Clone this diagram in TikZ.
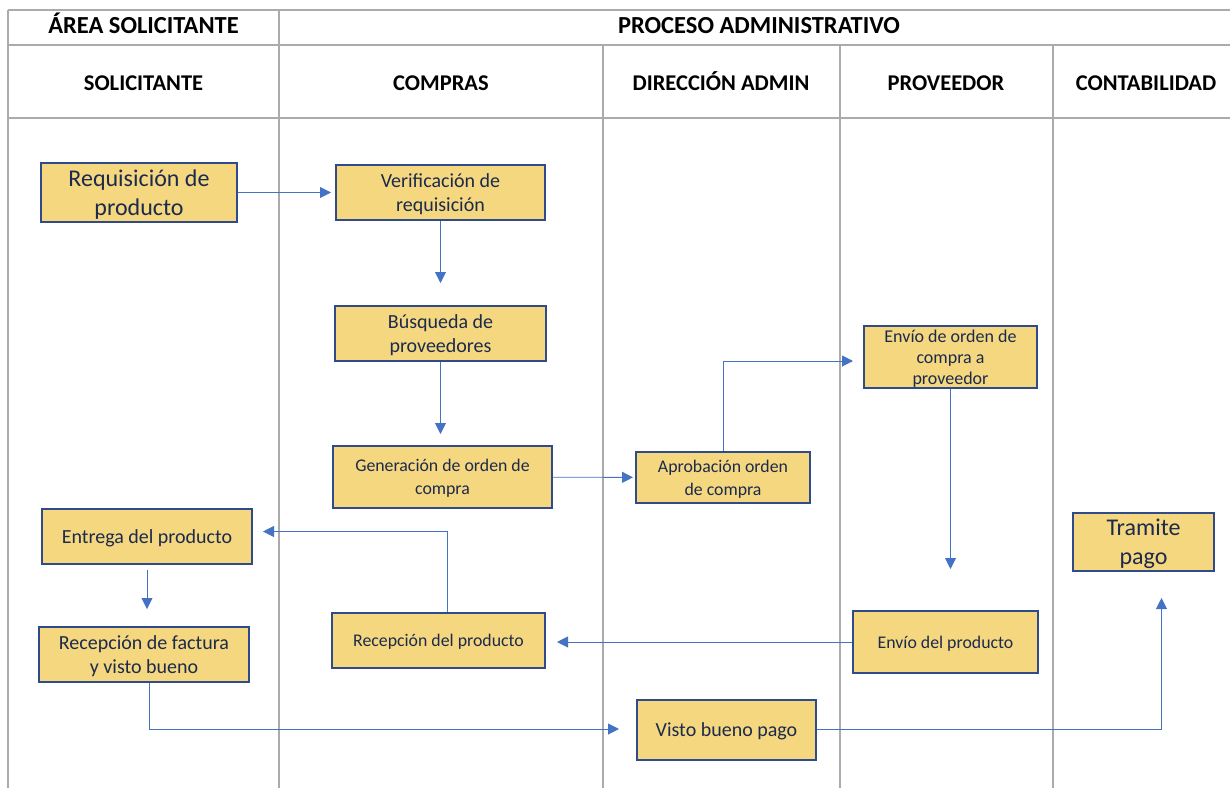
\documentclass[tikz,border=0pt]{standalone}
\usepackage{fontspec}
\setmainfont{Carlito}
\usetikzlibrary{arrows.meta,positioning}

\definecolor{boxfill}{HTML}{F4D77E}
\definecolor{boxdraw}{HTML}{2F4B8A}
\definecolor{flowblue}{HTML}{4472C4}
\definecolor{gridgray}{HTML}{ABABAB}
\definecolor{boxtext}{HTML}{1C2A4D}

\begin{document}
\begin{tikzpicture}[x=1pt, y=-1pt,
    % Define styles for the lanes, headers and tasks
    lane/.style={draw=gridgray, line width=1.6pt},
    head/.style={anchor=base, font=\fontsize{22.5}{26}\selectfont\bfseries, text=black},
    areahead/.style={head, font=\fontsize{24.5}{28}\selectfont\bfseries},
    task/.style={draw=boxdraw, line width=2pt, fill=boxfill, text=boxtext, align=center, inner sep=0pt, text depth=0pt, font=\fontsize{20}{24}\selectfont},
    midtask/.style={task, font=\fontsize{17.8}{23}\selectfont},
    smalltask/.style={task, font=\fontsize{18}{21}\selectfont},
    bigtask/.style={task, font=\fontsize{24}{29}\selectfont},
    flow/.style={-{Triangle[length=11pt,width=11pt]}, draw=flowblue, line width=0.9pt}
]

% Fix the page size
\useasboundingbox (0,0) rectangle (1230,788);

% Table lines
\draw[lane] (8,10) -- (1230,10);
\draw[lane] (8,45) -- (1230,45);
\draw[lane] (8,118) -- (1230,118);
\draw[lane] (8,10) -- (8,788);
\draw[lane] (279,10) -- (279,788);
\foreach \x in {603,840,1053}
    \draw[lane] (\x,45) -- (\x,788);

% Area headers
\node[areahead] (area) at (143.5,33) {ÁREA SOLICITANTE};
\node[areahead] (proceso) at (759,33) {PROCESO ADMINISTRATIVO};

% Lane headers
\node[head] (solicitante) at (143.5,90) {SOLICITANTE};
\node[head] (compras) at (441,90) {COMPRAS};
\node[head] (direccion) at (721,90) {DIRECCIÓN ADMIN};
\node[head] (proveedor) at (946,90) {PROVEEDOR};
\node[head] (contabilidad) at (1146,90) {CONTABILIDAD};

% Tasks of the solicitante
\node[bigtask, minimum width=196, minimum height=59] (requisicion) at (139,192.5) {Requisición de\\producto};
\node[task, minimum width=210, minimum height=55] (entrega) at (147,536.5) {Entrega del producto};
\node[task, minimum width=210, minimum height=55] (factura) at (144,654.5) {Recepción de factura\\y visto bueno};

% Tasks of compras
\node[task, minimum width=209, minimum height=55] (verificacion) at (440.5,192.5) {Verificación de\\requisición};
\node[task, minimum width=211, minimum height=55] (busqueda) at (440.5,333.5) {Búsqueda de\\proveedores};
\node[midtask, minimum width=219, minimum height=62] (generacion) at (442.5,477) {Generación de orden de\\compra};
\node[midtask, minimum width=213, minimum height=55] (recepcion) at (438.5,640.5) {Recepción del producto};

% Tasks of direccion admin
\node[midtask, minimum width=174, minimum height=51] (aprobacion) at (723,477.5) {Aprobación orden\\de compra};
\node[task, minimum width=179, minimum height=60] (vistobueno) at (726.5,730) {Visto bueno pago};

% Tasks of proveedor
\node[smalltask, minimum width=173, minimum height=62] (envioorden) at (950.5,357) {Envío de orden de\\compra a\\proveedor};
\node[midtask, minimum width=185, minimum height=62] (envioproducto) at (945.5,642) {Envío del producto};

% Tasks of contabilidad
\node[bigtask, minimum width=141, minimum height=58] (tramite) at (1143.5,542) {Tramite\\pago};

% Flow connections
\draw[flow, shorten >=4pt] (requisicion) -- (verificacion);
\draw[flow, shorten >=22pt] (verificacion.south) -- (verificacion.south |- busqueda.north);
\draw[flow, shorten >=11pt] (busqueda.south) -- (busqueda.south |- generacion.north);
\draw[flow, shorten >=2pt] (generacion) -- (aprobacion);
\draw[flow, shorten >=10pt] (aprobacion.north) |- ([yshift=-4pt]envioorden.west);
\draw[flow, shorten >=41pt] (envioorden.south) -- (envioorden.south |- envioproducto.north);
\draw[flow, shorten >=11pt] (envioproducto.west) -- (envioproducto.west -| recepcion.east);
\draw[flow, shorten >=10pt] ([xshift=9pt]recepcion.north) |- ([yshift=5pt]entrega.east);
\draw[flow, shorten <=5pt, shorten >=17pt] (entrega.south) -- (entrega.south |- factura.north);
\draw[flow, shorten >=17pt] ([xshift=5pt]factura.south) |- ([yshift=1pt]vistobueno.west);
\draw[flow, shorten >=26pt] ([yshift=1pt]vistobueno.east) -| ([xshift=18pt]tramite.south);

\end{tikzpicture}
\end{document}
